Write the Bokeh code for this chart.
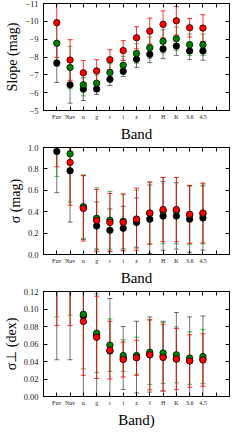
from bokeh.plotting import figure
from bokeh.models import Range1d, FixedTicker, LinearAxis, Whisker, TeeHead, ColumnDataSource
from bokeh.layouts import column
from bokeh.embed import file_html
from bokeh.resources import INLINE

bands = ["Fuv", "Nuv", "u", "g", "r", "i", "z", "J", "H", "K", "3.6", "4.5"]
xpos = list(range(len(bands)))

# Panel 1: slope (mag)
slope_black = [-7.67, -6.44, -6.20, -6.20, -6.75, -7.20, -7.87, -8.15, -8.45, -8.61, -8.34, -8.34]
slope_black_err = [1.10, 1.03, 0.64, 0.30, 0.35, 0.30, 0.45, 0.47, 0.54, 0.53, 0.49, 0.52]
slope_green = [-8.77, -7.41, -6.44, -6.53, -7.13, -7.54, -8.20, -8.52, -8.88, -9.03, -8.69, -8.69]
slope_green_err = [1.30, 1.19, 0.62, 0.45, 0.50, 0.50, 0.55, 0.60, 0.65, 0.65, 0.60, 0.60]
slope_red = [-9.92, -7.83, -7.11, -7.22, -7.85, -8.36, -9.08, -9.45, -9.83, -10.03, -9.64, -9.62]
slope_red_err = [1.95, 1.14, 0.69, 0.63, 0.56, 0.56, 0.62, 0.73, 0.76, 0.80, 0.52, 0.75]

# Panel 2: sigma (mag)
sig_black = [0.963, 0.783, 0.44, 0.267, 0.226, 0.245, 0.299, 0.33, 0.36, 0.36, 0.33, 0.342]
sig_black_err = [0.385, 0.48, 0.30, 0.224, 0.20, 0.205, 0.23, 0.32, 0.32, 0.31, 0.31, 0.30]
sig_green = [1.10, 0.941, 0.447, 0.338, 0.32, 0.31, 0.33, 0.385, 0.41, 0.41, 0.37, 0.38]
sig_green_err = [0.37, 0.45, 0.295, 0.285, 0.27, 0.255, 0.27, 0.29, 0.31, 0.31, 0.275, 0.28]
sig_red = [1.22, 0.86, 0.431, 0.317, 0.30, 0.30, 0.33, 0.388, 0.42, 0.42, 0.376, 0.388]
sig_red_err = [0.40, 0.40, 0.305, 0.29, 0.27, 0.265, 0.29, 0.29, 0.30, 0.30, 0.27, 0.28]

# Panel 3: sigma_perp (dex)
sp_black = [0.16, 0.16, 0.092, 0.070, 0.052, 0.044, 0.045, 0.048, 0.046, 0.043, 0.041, 0.043]
sp_black_err = [0.118, 0.118, 0.10, 0.075, 0.060, 0.036, 0.041, 0.043, 0.040, 0.053, 0.050, 0.049]
sp_green = [0.15, 0.15, 0.094, 0.0724, 0.0587, 0.0468, 0.0468, 0.0506, 0.0498, 0.0476, 0.0439, 0.0457]
sp_green_err = [0.059, 0.057, 0.0624, 0.045, 0.030, 0.018, 0.021, 0.037, 0.035, 0.032, 0.030, 0.031]
sp_red = [0.14, 0.14, 0.0858, 0.0676, 0.053, 0.0423, 0.0442, 0.0476, 0.0446, 0.0428, 0.0405, 0.0417]
sp_red_err = [0.059, 0.059, 0.0616, 0.047, 0.033, 0.020, 0.020, 0.040, 0.038, 0.035, 0.030, 0.030]

slope_ticks = [-11, -10, -9, -8, -7, -6, -5]
sig_ticks = [0.0, 0.2, 0.4, 0.6, 0.8, 1.0]
sp_ticks = [0.0, 0.02, 0.04, 0.06, 0.08, 0.10, 0.12]

SERIF = "Liberation Serif"
COLORS = ["black", "green", "red"]
BAR_ALPHA = [0.55, 0.6, 0.8]


def panel(series, ylabel, xlabel, yrange, yticks, ylabels, height, bottom):
    p = figure(width=234, height=height, output_backend="svg", toolbar_location=None,
               x_range=Range1d(-1, 13), y_range=Range1d(*yrange),
               min_border_left=37, min_border_right=5, min_border_top=3,
               min_border_bottom=bottom)
    p.background_fill_color = "white"
    p.border_fill_color = "white"
    p.outline_line_color = "black"
    p.outline_line_width = 1
    p.xgrid.visible = False
    p.ygrid.visible = False

    xt = FixedTicker(ticks=list(range(13)))
    yt = FixedTicker(ticks=yticks)
    xa = p.xaxis[0]
    xa.ticker = xt
    xa.major_label_overrides = {i: (bands[i] if i < len(bands) else "") for i in range(13)}
    xa.major_label_text_font = SERIF
    xa.major_label_text_font_size = "6px"
    xa.major_label_standoff = 3
    xa.axis_label = xlabel
    xa.axis_label_text_font = SERIF
    xa.axis_label_text_font_size = "15px"
    xa.axis_label_text_font_style = "normal"
    xa.axis_label_standoff = 3
    ya = p.yaxis[0]
    ya.ticker = yt
    ya.major_label_overrides = dict(zip(yticks, ylabels))
    ya.major_label_text_font = SERIF
    ya.major_label_text_font_size = "8.5px"
    ya.major_label_standoff = 5
    ya.axis_label = ylabel
    ya.axis_label_text_font = SERIF
    ya.axis_label_text_font_size = "14px"
    ya.axis_label_text_font_style = "normal"
    ya.axis_label_standoff = 2
    for ax in (xa, ya):
        ax.major_tick_in = 4
        ax.major_tick_out = 0
        ax.minor_tick_in = 0
        ax.minor_tick_out = 0
        ax.axis_line_color = "black"
        ax.major_tick_line_color = "black"
        ax.major_label_text_color = "#222222"
        ax.axis_label_text_color = "black"

    for side, tk in (("above", xt), ("right", yt)):
        ax = LinearAxis(ticker=tk, major_label_text_font_size="0px", major_label_standoff=0,
                        major_tick_in=4, major_tick_out=0, minor_tick_in=0, minor_tick_out=0,
                        axis_line_color="black", major_tick_line_color="black")
        p.add_layout(ax, side)

    for color, alpha, (vals, errs) in zip(COLORS, BAR_ALPHA, series):
        lo = [v - e for v, e in zip(vals, errs)]
        up = [v + e for v, e in zip(vals, errs)]
        src = ColumnDataSource(dict(x=xpos, y=vals, lo=lo, up=up))
        w = Whisker(source=src, base="x", lower="lo", upper="up", dimension="height",
                    line_color=color, line_alpha=alpha, line_width=1,
                    upper_head=TeeHead(size=5, line_color=color, line_alpha=alpha, line_width=1),
                    lower_head=TeeHead(size=5, line_color=color, line_alpha=alpha, line_width=1))
        p.add_layout(w)
    for color, (vals, errs) in zip(COLORS, series):
        src = ColumnDataSource(dict(x=xpos, y=vals))
        p.scatter("x", "y", source=src, size=6.5, fill_color=color, line_color="black",
                  line_width=0.7)
    return p


p1 = panel([(slope_black, slope_black_err), (slope_green, slope_green_err), (slope_red, slope_red_err)],
           "Slope (mag)", "Band", (-5, -11), slope_ticks,
           ["\u221211", "\u221210", "\u22129", "\u22128", "\u22127", "\u22126", "\u22125"], 144, 34)
p2 = panel([(sig_black, sig_black_err), (sig_green, sig_green_err), (sig_red, sig_red_err)],
           "\u03c3 (mag)", "Band", (0, 1.0), sig_ticks,
           ["0.0", "0.2", "0.4", "0.6", "0.8", "1.0"], 144, 34)
p3 = panel([(sp_black, sp_black_err), (sp_green, sp_green_err), (sp_red, sp_red_err)],
           "\u03c3\u22a5 (dex)", "Band)", (0, 0.12), sp_ticks,
           ["0.00", "0.02", "0.04", "0.06", "0.08", "0.10", "0.12"], 142, 31)

layout = column(p1, p2, p3, spacing=0)
open("out.html", "w").write(file_html(layout, INLINE))
